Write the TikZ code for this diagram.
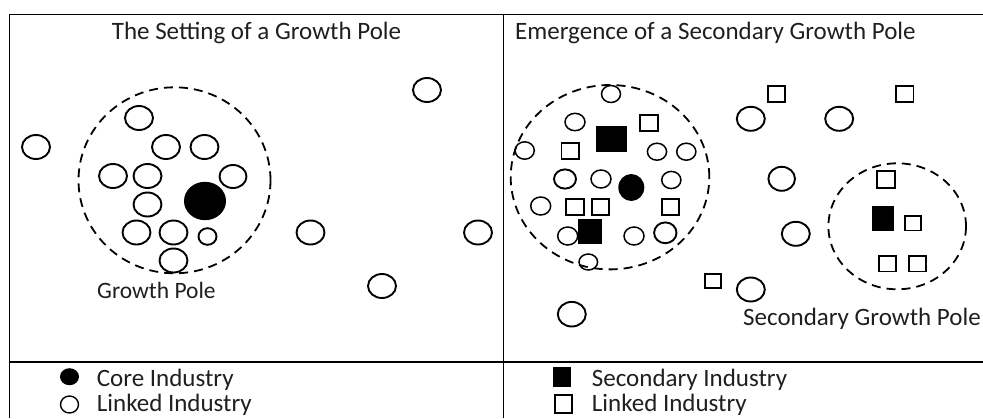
\documentclass[tikz,border=0pt]{standalone}
\usepackage{fontspec}
\setmainfont{Carlito}
\tikzset{
  frame/.style={line width=1.6pt, black},
  lk/.style={line width=1.9pt, black},
  lks/.style={line width=1.5pt, black},
  poleline/.style={line width=1.8pt, dash pattern=on 9pt off 6pt, black},
  txt/.style={inner sep=0pt, font=\fontsize{25}{30}\selectfont, text=black!88},
}
\newcommand{\ovl}[4]{\draw[lk] (#1,#2) ellipse [x radius=#3pt, y radius=#4pt];}
\newcommand{\ovs}[4]{\draw[lks] (#1,#2) ellipse [x radius=#3pt, y radius=#4pt];}
\newcommand{\ovf}[4]{\fill[black] (#1,#2) ellipse [x radius=#3pt, y radius=#4pt];}
\newcommand{\sqo}[4]{\draw[lk] ({#1-#3/2},{#2-#4/2}) rectangle ({#1+#3/2},{#2+#4/2});}
\newcommand{\sqf}[4]{\fill[black] ({#1-#3/2},{#2-#4/2}) rectangle ({#1+#3/2},{#2+#4/2});}
\begin{document}
\begin{tikzpicture}[x=1pt,y=-1pt]
\useasboundingbox (0,0) rectangle (983,418);
% frame
\draw[frame] (9.5,418) -- (9.5,14.5) -- (983,14.5);
\draw[frame] (503.5,14.5) -- (503.5,418);
\draw[frame] (9.5,362) -- (983,362);
% titles
\node[txt, anchor=base] (t1) at (256.5,39.3) {The Setting of a Growth Pole};
\node[txt, anchor=base west] (t2) at (515,39.3) {Emergence of a Secondary Growth Pole};
% ---------- left panel ----------
\draw[poleline] (174.5,180.3) ellipse [x radius=96pt, y radius=93pt];
\ovl{36}{147}{14}{12}
\ovl{139}{118}{14}{12}
\ovl{166}{147}{14}{12}
\ovl{204.5}{147}{14}{12}
\ovl{113}{176}{14}{12}
\ovl{147.5}{176}{14}{12}
\ovl{233}{176.5}{13.5}{11.5}
\ovl{147.5}{204.5}{14}{12}
\ovf{205}{201}{21}{19.2}
\ovl{136.5}{232.5}{14}{12}
\ovl{173.5}{232.5}{14}{12}
\ovl{207.5}{236.5}{9}{8.3}
\ovl{173.5}{260.5}{14}{12}
\ovl{427}{90}{14}{12}
\ovl{310.5}{232.5}{14}{12}
\ovl{478}{232.5}{14}{12}
\ovl{382}{286}{14}{12}
\node[txt, anchor=base west, font=\fontsize{23.5}{28}\selectfont] (gp) at (97,298.5) {Growth Pole};
% ---------- right panel ----------
\draw[poleline] (610,177.2) ellipse [x radius=99.3pt, y radius=92.2pt];
\draw[poleline] (897.2,226.3) ellipse [x radius=68.8pt, y radius=63pt];
% inside big pole
\ovs{611}{94}{9.5}{8.5}
\ovs{575}{122}{10}{8.7}
\sqf{611.7}{138.8}{31}{26}
\sqo{648.8}{122.7}{18}{16}
\ovs{524.7}{150.5}{9.6}{8.7}
\sqo{570.2}{151}{17.5}{16}
\ovs{657}{151.7}{9.6}{8.5}
\ovs{686.3}{151.7}{9.6}{8.5}
\ovl{565}{179}{11}{9.6}
\ovs{601}{179}{10}{9}
\ovf{631.3}{187.5}{13}{13.5}
\ovs{671.3}{180}{9.6}{8.6}
\ovs{540.7}{206}{10}{9}
\sqo{575}{207}{17.5}{16.5}
\sqo{600.5}{207}{17.5}{16.5}
\sqo{670.5}{207}{17.5}{16.5}
\ovs{567.7}{236}{10}{9}
\sqf{589.7}{231.7}{24}{25.3}
\ovs{634}{236}{10}{9}
\ovl{665.3}{232.8}{11.2}{10.4}
\ovs{588.3}{262}{9.3}{8}
% outside
\sqo{776.5}{93.8}{17.5}{15.5}
\sqo{904.7}{93.8}{17.5}{15.5}
\ovl{750.8}{118.8}{14}{12}
\ovl{839.2}{118.8}{14}{12}
\ovl{781.7}{178.8}{13.3}{12}
\ovl{795.8}{233.8}{14}{12}
% small pole
\sqo{885.8}{179.5}{17.5}{16.5}
\sqf{883.2}{218.3}{21.7}{24.7}
\sqo{913}{223.2}{16.5}{14.5}
\sqo{887.8}{263.7}{17}{15.5}
\sqo{917.2}{263.7}{17}{15.5}
% lower outside
\sqo{713.3}{280.8}{16}{14.5}
\ovl{750.8}{289.5}{14}{12}
\ovl{571.8}{314.2}{14}{12.3}
\node[txt, anchor=base west] (sgp) at (743,325.5) {Secondary Growth Pole};
% ---------- legend ----------
\ovf{69.5}{376.7}{9.5}{8.5}
\node[txt, anchor=base west] (l1) at (96.7,386.7) {Core Industry};
\draw[line width=1.4pt] (69.5,404.5) ellipse [x radius=9pt, y radius=8.5pt];
\node[txt, anchor=base west] (l2) at (96.7,411.5) {Linked Industry};
\sqf{562.2}{377}{17.7}{19.3}
\node[txt, anchor=base west] (l3) at (591.7,386.7) {Secondary Industry};
\sqo{563.3}{404}{17}{18}
\node[txt, anchor=base west] (l4) at (591.7,411.5) {Linked Industry};
\end{tikzpicture}
\end{document}
